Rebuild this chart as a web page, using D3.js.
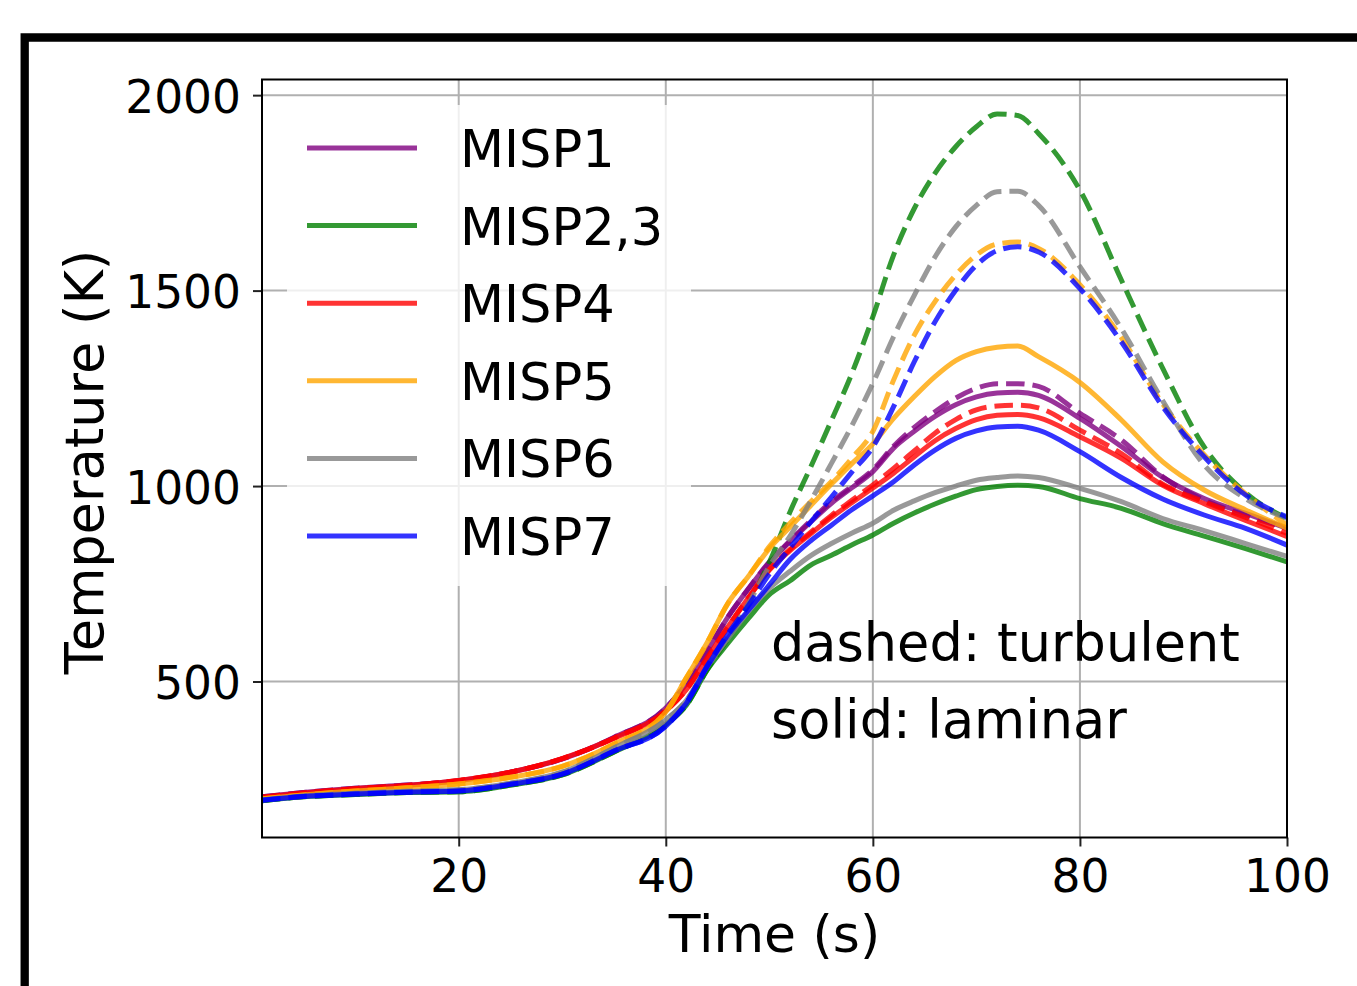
<!DOCTYPE html>
<html>
<head>
<meta charset="utf-8">
<script src="https://cdn.jsdelivr.net/npm/d3@7"></script>
<style>
	body { margin: 0; background: #ffffff; }
	svg { display: block; font-family: "DejaVu Sans", sans-serif; }
</style>
</head>
<body>
<script>
// time axis (s), shared by every curve
var times = [1, 5, 10, 15, 20, 25, 30, 35, 40, 42, 44, 46, 48, 50, 52, 54, 56, 58, 60,
             62, 64, 66, 68, 70, 72, 74, 76, 80, 84, 88, 92, 96, 100];

// temperatures (K), solid = laminar, dashed = turbulent
var misp1Laminar = [205, 216, 227, 235, 246, 268, 302, 357, 432, 495, 578, 665, 738, 804, 858, 908, 956, 996, 1037,
                    1097, 1140, 1178, 1208, 1228, 1238, 1240, 1232, 1173, 1101, 1022, 968, 930, 892];
var misp1Turbulent = [205, 216, 227, 235, 246, 268, 302, 357, 432, 495, 578, 665, 738, 806, 860, 912, 960, 1000, 1042,
                      1102, 1150, 1190, 1225, 1250, 1262, 1262, 1255, 1186, 1118, 1024, 964, 925, 892];
var misp23Laminar = [195, 205, 211, 216, 218, 235, 261, 320, 390, 440, 530, 598, 662, 722, 758, 798, 823, 850, 875,
                     905, 931, 954, 974, 991, 999, 1002, 999, 968, 943, 904, 872, 840, 806];
var misp23Turbulent = [195, 205, 211, 216, 218, 235, 261, 320, 390, 440, 530, 610, 700, 805, 934, 1049, 1168, 1290, 1433,
                       1591, 1710, 1800, 1868, 1919, 1952, 1948, 1902, 1757, 1527, 1301, 1100, 983, 917];
var misp4Laminar = [204, 215, 226, 234, 247, 268, 303, 355, 425, 480, 560, 640, 715, 785, 835, 878, 920, 958, 995,
                    1033, 1075, 1116, 1147, 1170, 1181, 1183, 1175, 1126, 1071, 1002, 955, 912, 871];
var misp4Turbulent = [204, 215, 226, 234, 247, 268, 303, 355, 425, 480, 560, 640, 715, 787, 838, 882, 925, 964, 1003,
                      1045, 1090, 1135, 1170, 1195, 1205, 1207, 1200, 1143, 1083, 1005, 960, 920, 879];
var misp5Laminar = [200, 210, 220, 228, 238, 255, 283, 340, 422, 510, 600, 700, 770, 840, 895, 950, 1005, 1058, 1108,
                    1173, 1229, 1280, 1321, 1344, 1355, 1358, 1331, 1265, 1169, 1062, 990, 939, 892];
var misp5Turbulent = [200, 210, 220, 228, 238, 255, 283, 340, 422, 510, 600, 700, 770, 845, 905, 960, 1012, 1072, 1140,
                      1271, 1386, 1472, 1540, 1591, 1619, 1624, 1608, 1515, 1380, 1210, 1080, 980, 900];
var misp6Laminar = [197, 207, 214, 219, 223, 240, 268, 330, 402, 452, 538, 610, 680, 738, 782, 822, 853, 880, 905,
                    938, 962, 983, 1000, 1015, 1022, 1026, 1022, 994, 960, 917, 886, 853, 820];
var misp6Turbulent = [197, 207, 214, 219, 223, 240, 268, 330, 402, 452, 538, 615, 700, 795, 872, 962, 1058, 1156, 1263,
                      1382, 1488, 1586, 1663, 1718, 1753, 1754, 1718, 1561, 1403, 1218, 1054, 968, 917];
var misp7Laminar = [196, 206, 212, 217, 220, 237, 263, 322, 386, 445, 538, 619, 683, 747, 812, 860, 900, 940, 975,
                    1011, 1054, 1092, 1122, 1141, 1151, 1153, 1143, 1088, 1022, 967, 926, 892, 849];
var misp7Turbulent = [196, 206, 212, 217, 220, 237, 263, 322, 386, 446, 540, 622, 695, 775, 842, 908, 972, 1037, 1100,
                      1203, 1318, 1420, 1501, 1565, 1602, 1612, 1599, 1505, 1369, 1203, 1075, 977, 921];

// legend names and tick labels
var names = ["MISP1", "MISP2,3", "MISP4", "MISP5", "MISP6", "MISP7"];
var xTicks = [20, 40, 60, 80, 100];
var yTicks = [500, 1000, 1500, 2000];
var notes = ["dashed: turbulent", "solid: laminar"];

// line colours, one per case
var colors = ["purple", "green", "red", "orange", "gray", "blue"];

// pairs of curves per case: [laminar, turbulent]
var cases = [
	[misp1Laminar, misp1Turbulent],
	[misp23Laminar, misp23Turbulent],
	[misp4Laminar, misp4Turbulent],
	[misp5Laminar, misp5Turbulent],
	[misp6Laminar, misp6Turbulent],
	[misp7Laminar, misp7Turbulent]
];

// size variables
var w = 1357,
    h = 986,
    plotLeft = 262,
    plotRight = 1287,
    plotTop = 79.5,
    plotBottom = 837.5;

var svg = d3.select("body")
            .append("svg")
             .attr("width", w)
             .attr("height", h);

// thick frame at the top and left of the figure
svg.append("path")
   .attr("d", "M24.7," + h + " V37.5 H" + w)
   .attr("fill", "none")
   .attr("stroke", "black")
   .attr("stroke-width", 8.3)
   .attr("stroke-linejoin", "miter");

// scales
var xScale = d3.scaleLinear()
               .domain([1, 100])
               .range([plotLeft, plotRight]);

var yScale = d3.scaleLinear()
               .domain([101, 2040])
               .range([plotBottom, plotTop]);

// grid lines
svg.append("g")
   .selectAll("line")
   .data(xTicks)
   .enter()
   .append("line")
   .attr("x1", d => xScale(d))
   .attr("x2", d => xScale(d))
   .attr("y1", plotTop)
   .attr("y2", plotBottom)
   .attr("stroke", "#b0b0b0")
   .attr("stroke-width", 2);

svg.append("g")
   .selectAll("line")
   .data(yTicks)
   .enter()
   .append("line")
   .attr("x1", plotLeft)
   .attr("x2", plotRight)
   .attr("y1", d => yScale(d))
   .attr("y2", d => yScale(d))
   .attr("stroke", "#b0b0b0")
   .attr("stroke-width", 2);

// clip the curves to the plot area
svg.append("clipPath")
   .attr("id", "plotArea")
   .append("rect")
   .attr("x", plotLeft)
   .attr("y", plotTop)
   .attr("width", plotRight - plotLeft)
   .attr("height", plotBottom - plotTop);

var line = d3.line()
             .x((d, i) => xScale(times[i]))
             .y(d => yScale(d))
             .curve(d3.curveMonotoneX);

var curves = svg.append("g")
                .attr("clip-path", "url(#plotArea)");

// solid laminar curve, then dashed turbulent curve, per case
cases.forEach(function(pair, i) {
	curves.append("path")
	      .attr("d", line(pair[0]))
	      .attr("fill", "none")
	      .attr("stroke", colors[i])
	      .attr("stroke-opacity", 0.8)
	      .attr("stroke-width", 5);

	curves.append("path")
	      .attr("d", line(pair[1]))
	      .attr("fill", "none")
	      .attr("stroke", colors[i])
	      .attr("stroke-opacity", 0.8)
	      .attr("stroke-width", 5)
	      .attr("stroke-dasharray", "18.5,8");
});

// axes
var xAxis = d3.axisBottom(xScale)
              .tickValues(xTicks)
              .tickFormat(d3.format("d"))
              .tickSize(9)
              .tickPadding(13);

var yAxis = d3.axisLeft(yScale)
              .tickValues(yTicks)
              .tickFormat(d3.format("d"))
              .tickSize(9)
              .tickPadding(12);

var gx = svg.append("g")
            .attr("transform", "translate(0," + plotBottom + ")")
            .call(xAxis);

var gy = svg.append("g")
            .attr("transform", "translate(" + plotLeft + ",0)")
            .call(yAxis);

[gx, gy].forEach(function(g) {
	g.select(".domain").remove();
	g.selectAll(".tick line")
	 .attr("stroke", "#222")
	 .attr("stroke-width", 2);
	g.selectAll("text")
	 .attr("fill", "black")
	 .style("font-family", "DejaVu Sans")
	 .style("font-size", "45.5px");
});
gy.selectAll("text").attr("dy", "0.38em");

// plot frame
svg.append("rect")
   .attr("x", plotLeft)
   .attr("y", plotTop)
   .attr("width", plotRight - plotLeft)
   .attr("height", plotBottom - plotTop)
   .attr("fill", "none")
   .attr("stroke", "black")
   .attr("stroke-width", 2);

// axis labels
svg.append("text")
   .attr("x", (plotLeft + plotRight) / 2)
   .attr("y", 952)
   .style("text-anchor", "middle")
   .style("font-size", "52px")
   .text("Time (s)");

svg.append("text")
   .attr("transform", "translate(103,462) rotate(-90)")
   .style("text-anchor", "middle")
   .style("font-size", "52.5px")
   .text("Temperature (K)");

// notes about the line styles
svg.selectAll(".note")
   .data(notes)
   .enter()
   .append("text")
   .attr("class", "note")
   .attr("x", 771)
   .attr("y", (d, i) => 661 + i * 77)
   .style("font-size", "52.5px")
   .text(d => d);

// legend box, semi transparent so the grid shows faintly
svg.append("rect")
   .attr("x", 287)
   .attr("y", 105)
   .attr("width", 404)
   .attr("height", 481)
   .attr("rx", 10)
   .attr("fill", "white")
   .attr("fill-opacity", 0.8);

var legend = svg.selectAll(".legend")
                .data(names)
                .enter()
                .append("g")
                .attr("class", "legend")
                .attr("transform", (d, i) => "translate(0," + (148 + i * 77.6) + ")");

legend.append("line")
      .attr("x1", 307)
      .attr("x2", 417)
      .attr("stroke", (d, i) => colors[i])
      .attr("stroke-opacity", 0.8)
      .attr("stroke-width", 5);

legend.append("text")
      .attr("x", 460)
      .attr("y", 19)
      .style("font-size", "51px")
      .text(d => d);
</script>
</body>
</html>
